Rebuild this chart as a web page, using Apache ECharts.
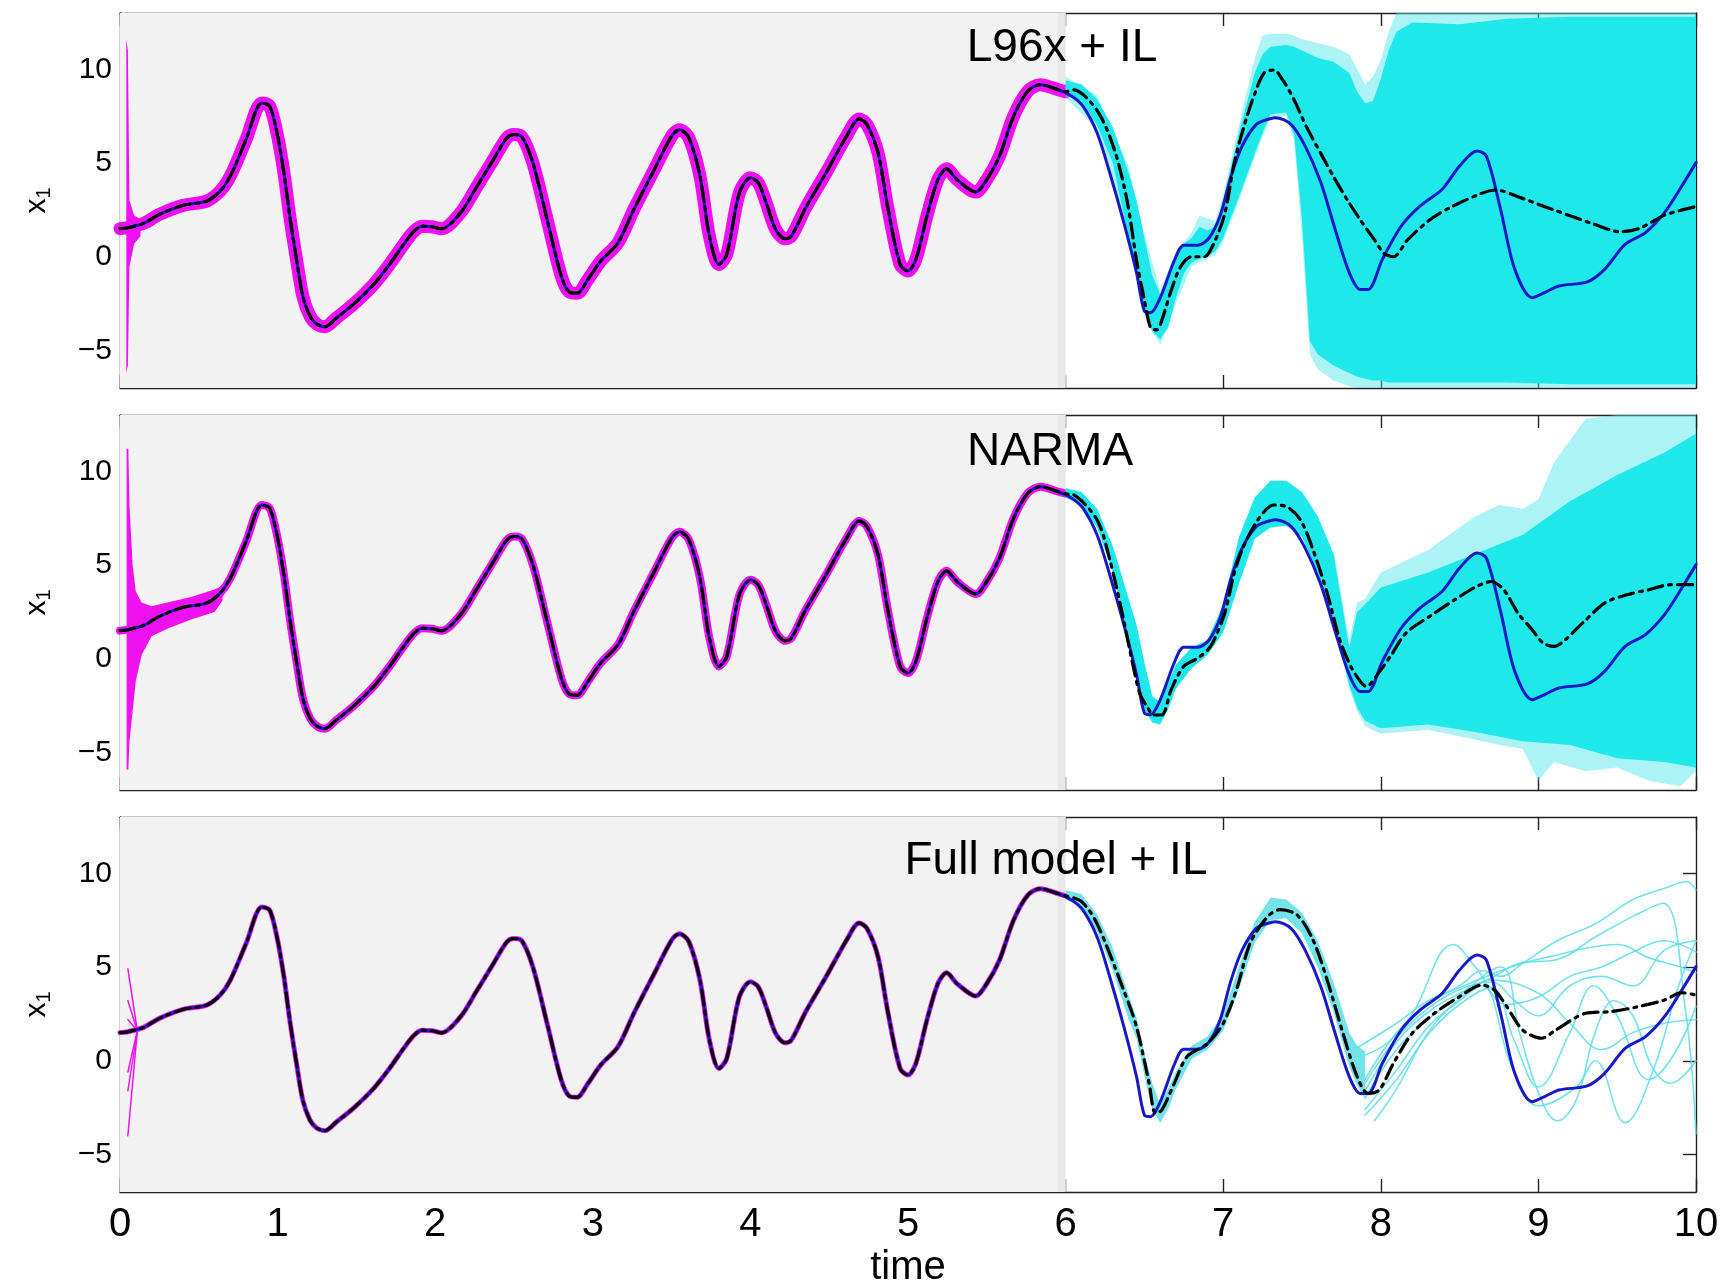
<!DOCTYPE html>
<html>
<head>
<meta charset="utf-8">
<script src="https://cdn.jsdelivr.net/npm/echarts@6/dist/echarts.min.js"></script>
<style>
  html, body { margin: 0; padding: 0; background: #fff; }
  #chart { width: 1727px; height: 1282px; }
</style>
</head>
<body>
<div id="chart"></div>
<script>
// ---- data ---------------------------------------------------------------
const panelTitles = ['L96x + IL', 'NARMA', 'Full model + IL'];
const xTicks = [0, 1, 2, 3, 4, 5, 6, 7, 8, 9, 10];
const yTicks = [-5, 0, 5, 10];
const analysisWindow = [0, 6];

// true trajectory of x1 (same in all three panels)
const truth = [
  [0.00,1.50],[0.05,1.55],[0.15,1.78],[0.25,2.26],[0.40,2.74],[0.55,2.97],[0.635,3.5],[0.70,4.3],
  [0.80,6.25],[0.90,8.2],[0.95,8.03],[1.00,6.43],[1.04,4.48],[1.08,2.0],[1.12,-0.14],[1.16,-2.1],
  [1.205,-3.16],[1.25,-3.6],[1.30,-3.73],[1.375,-3.25],[1.48,-2.54],[1.61,-1.47],[1.71,-0.41],
  [1.80,0.66],[1.86,1.31],[1.915,1.63],[1.98,1.6],[2.04,1.49],[2.16,2.34],[2.26,3.68],[2.37,5.19],
  [2.455,6.34],[2.50,6.52],[2.55,6.4],[2.62,5.0],[2.71,1.99],[2.80,-1.03],[2.85,-1.88],[2.90,-1.95],
  [2.97,-1.2],[3.05,-0.23],[3.16,0.75],[3.26,2.52],[3.39,4.65],[3.50,6.43],[3.55,6.78],[3.61,6.34],
  [3.68,4.3],[3.74,1.1],[3.80,-0.41],[3.85,0.12],[3.93,3.41],[4.00,4.21],[4.05,3.94],[4.10,2.88],
  [4.16,1.46],[4.22,0.96],[4.26,1.1],[4.35,2.6],[4.48,4.48],[4.61,6.43],[4.69,7.35],[4.74,7.05],
  [4.81,5.54],[4.87,2.7],[4.95,-0.41],[5.00,-0.76],[5.05,-0.14],[5.12,2.17],[5.19,4.12],[5.245,4.69],
  [5.31,4.12],[5.43,3.45],[5.50,4.12],[5.58,5.36],[5.67,7.5],[5.76,8.83],[5.84,9.18],[5.95,8.92],
  [6.04,8.56],[6.11,8.03],[6.20,6.6],[6.28,4.48],[6.37,1.81],[6.45,-0.85],[6.50,-2.9],[6.54,-2.98],
  [6.60,-2.2],[6.69,-0.2],[6.75,0.62],[6.84,0.62],[6.91,1.0],[6.98,2.17],[7.05,4.3],[7.12,5.9],
  [7.21,7.06],[7.28,7.32],[7.33,7.42],[7.43,7.06],[7.52,5.9],[7.62,3.95],[7.71,1.47],[7.80,-0.85],
  [7.87,-1.74],[7.92,-1.74],[8.01,-0.14],[8.13,1.64],[8.25,2.71],[8.39,3.6],[8.50,4.84],[8.61,5.64],
  [8.67,5.37],[8.76,2.53],[8.85,-0.67],[8.96,-2.18],[9.04,-1.91],[9.13,-1.56],[9.31,-1.34],
  [9.42,-0.67],[9.55,0.66],[9.68,1.29],[9.80,2.35],[9.91,3.77],[10.0,5.02]
];

// forecast ensemble means (t >= 6)
const meanL96 = [
  [6.00,8.8],[6.05,8.9],[6.20,7.8],[6.31,5.7],[6.39,3.0],[6.45,-0.18],[6.50,-2.3],[6.54,-3.8],
  [6.58,-3.9],[6.61,-3.4],[6.67,-1.8],[6.73,-0.53],[6.80,0.0],[6.88,0.0],[6.94,0.7],[7.01,2.3],
  [7.07,5.0],[7.13,6.9],[7.20,8.7],[7.26,9.8],[7.32,9.96],[7.38,9.4],[7.45,8.36],[7.53,6.9],
  [7.62,5.5],[7.70,4.27],[7.79,3.0],[7.87,1.96],[7.96,0.9],[8.02,0.18],[8.08,0.0],[8.17,0.9],
  [8.31,1.96],[8.45,2.67],[8.64,3.38],[8.73,3.56],[8.87,3.2],[9.10,2.49],[9.34,1.78],[9.52,1.33],
  [9.64,1.51],[9.80,2.22],[10.0,2.67]
];
const meanNarma = [
  [6.00,8.8],[6.05,8.75],[6.20,7.4],[6.28,5.3],[6.36,2.4],[6.42,-0.05],[6.47,-1.83],[6.52,-2.6],
  [6.56,-3.0],[6.61,-3.0],[6.67,-1.65],[6.75,-0.4],[6.84,0.04],[6.92,0.66],[7.01,2.44],[7.07,4.57],
  [7.13,6.0],[7.22,7.41],[7.32,8.2],[7.40,8.12],[7.49,7.41],[7.57,5.81],[7.66,3.5],[7.74,1.01],
  [7.81,-0.41],[7.87,-1.21],[7.91,-1.48],[7.97,-0.94],[8.06,0.12],[8.16,1.37],[8.31,2.26],
  [8.47,3.15],[8.59,3.77],[8.70,4.12],[8.78,3.68],[8.87,2.44],[8.96,1.55],[9.03,0.84],[9.10,0.66],
  [9.17,1.01],[9.28,1.9],[9.42,2.97],[9.56,3.41],[9.70,3.68],[9.84,3.95],[10.0,3.95]
];
const meanFull = [
  [6.00,8.8],[6.10,8.5],[6.20,7.3],[6.37,3.73],[6.45,1.81],[6.53,-1.2],[6.57,-2.8],[6.61,-2.63],
  [6.69,-1.2],[6.77,0.21],[6.90,0.92],[7.00,1.99],[7.09,3.94],[7.17,6.25],[7.28,7.67],[7.36,8.06],
  [7.47,7.77],[7.57,6.44],[7.66,4.3],[7.76,1.47],[7.85,-0.85],[7.92,-1.74],[7.99,-1.56],[8.08,-0.14],
  [8.20,1.47],[8.34,2.53],[8.50,3.42],[8.64,4.04],[8.72,3.77],[8.80,2.88],[8.90,1.64],[9.02,1.2],
  [9.11,1.64],[9.30,2.53],[9.46,2.62],[9.63,2.88],[9.80,3.24],[9.91,3.63],[10.0,3.5]
];

// forecast ensemble spread, L96x + IL (dense core and faint outer lines)
const l96CoreT  = [6.0,6.1,6.2,6.3,6.4,6.45,6.5,6.55,6.6,6.65,6.7,6.75,6.8,6.85,6.9,6.95,7.0,7.1,7.2,7.25,7.3,7.4,7.45,7.5,7.55,7.6,7.7,7.8,7.85,7.9,7.95,8.0,8.05,8.1,8.2,8.5,8.8,9.2,9.6,10.0];
const l96CoreLo = [8.7,8.3,7.0,5.0,1.0,-0.9,-2.9,-4.0,-4.4,-3.8,-2.2,-0.9,-0.3,-0.1,0.0,0.3,1.0,3.2,5.5,6.6,7.6,7.7,6.5,2.0,-4.5,-5.2,-5.8,-6.2,-6.4,-6.5,-6.6,-6.6,-6.7,-6.7,-6.7,-6.7,-6.7,-6.8,-6.8,-6.8];
const l96CoreHi = [9.4,9.2,8.4,6.9,4.5,3.0,1.0,-1.0,-2.0,-1.3,0.0,0.7,1.0,1.6,1.4,1.6,3.0,6.6,9.8,10.8,11.2,11.3,11.2,11.0,10.8,10.6,10.4,9.8,8.8,8.2,8.3,9.5,11.0,12.0,12.5,12.4,12.7,12.8,12.8,12.8];
const l96OuterT  = [6.0,6.2,6.4,6.5,6.6,6.7,6.8,6.85,6.95,7.0,7.1,7.2,7.25,7.3,7.4,7.45,7.5,7.55,7.6,7.7,7.8,7.85,7.9,7.95,8.0,8.05,8.1,10.0];
const l96OuterLo = [8.5,6.8,0.8,-3.1,-4.7,-2.5,-0.5,-0.3,0.1,0.8,3.0,5.3,6.4,7.4,7.5,6.2,1.0,-5.2,-6.0,-6.6,-6.9,-7,-7,-7,-7,-7,-7,-7];
const l96OuterHi = [9.6,8.6,4.8,1.2,-1.8,0.3,1.3,2.2,1.9,3.3,7.0,10.6,11.8,11.9,11.9,11.8,11.6,11.5,11.4,11.2,10.8,10.0,9.2,9.6,10.5,12.0,13,13];

// forecast ensemble spread, NARMA
const narmaCoreT  = [6.0,6.1,6.2,6.3,6.4,6.45,6.5,6.55,6.6,6.65,6.7,6.8,6.9,7.0,7.1,7.2,7.3,7.4,7.5,7.6,7.7,7.8,7.85,7.9,8.0,8.3,8.6,8.9,9.2,9.5,9.8,10.0];
const narmaCoreLo = [8.6,8.2,7.0,4.6,1.0,-0.9,-2.7,-3.4,-3.5,-2.7,-1.6,-0.5,0.2,1.4,4.0,6.4,7.0,7.1,6.5,4.6,2.0,-1.4,-2.6,-3.3,-3.7,-3.5,-3.9,-4.4,-4.6,-5.3,-5.5,-5.8];
const narmaCoreHi = [9.1,8.9,8.0,6.0,3.2,1.8,-0.2,-2.0,-2.3,-1.3,-0.3,0.6,1.0,2.9,6.5,8.6,9.5,9.5,8.9,7.6,5.6,0.6,2.5,2.9,3.8,4.6,5.6,6.6,8.4,9.8,11.0,12.0];
const narmaOuterT  = [7.7,7.8,7.85,7.9,8.0,8.3,8.6,8.75,8.9,9.0,9.1,9.3,9.5,9.7,9.9,10.0];
const narmaOuterLo = [2.0,-1.6,-2.8,-3.6,-4.0,-3.8,-4.3,-4.6,-4.8,-6.5,-5.5,-6.0,-5.8,-6.5,-6.8,-6.0];
const narmaOuterHi = [5.8,1.0,3.0,3.2,4.6,5.8,7.6,8.2,8.0,8.5,10.5,12.8,13,13,13,13];

// forecast ensemble, full model + IL: tight early spread, then single members
const fullCoreT  = [6.0,6.1,6.2,6.3,6.4,6.45,6.5,6.55,6.6,6.65,6.7,6.8,6.9,7.0,7.1,7.2,7.3,7.4,7.5,7.6,7.7,7.8,7.85,7.9];
const fullCoreLo = [8.6,8.2,6.9,4.8,2.2,1.2,-0.8,-2.6,-3.3,-2.6,-1.5,0.1,0.6,1.6,3.8,6.3,7.5,7.6,6.8,5.0,2.6,-0.3,-1.3,-2.0];
const fullCoreHi = [9.1,8.9,7.8,6.0,3.5,2.3,0.4,-1.2,-2.3,-1.5,-0.6,0.8,1.3,2.5,5.0,7.4,8.7,8.6,7.9,6.4,4.2,1.5,0.8,0.5];
const fullMembers = [
  [[7.9,-1.0],[8.1,1.5],[8.3,3.0],[8.5,4.0],[8.65,4.8],[8.76,4.5],[8.9,5.2],[9.12,6.4],[9.36,7.3],[9.6,8.6],[9.8,9.2],[9.94,9.55],[10,9.1]],
  [[7.9,-1.6],[8.1,1.0],[8.3,2.6],[8.5,3.6],[8.7,4.4],[8.88,5.2],[9.12,5.4],[9.36,6.6],[9.6,7.7],[9.79,8.4],[9.93,2.9],[10,-3.9]],
  [[7.9,-2.0],[8.1,0.6],[8.3,2.2],[8.5,3.5],[8.76,5.0],[8.88,1.5],[9.0,-1.7],[9.12,-3.2],[9.24,-2.1],[9.36,1.5],[9.48,3.2],[9.6,2.4],[9.72,-0.3],[9.84,-1.2],[10,0.0]],
  [[7.9,-2.6],[8.1,-0.5],[8.3,1.8],[8.5,3.2],[8.64,4.0],[8.83,-0.3],[9.0,-2.4],[9.24,-1.4],[9.36,0.0],[9.55,-3.3],[9.72,-0.7],[9.89,4.0],[10,6.4]],
  [[7.9,-1.2],[8.1,1.2],[8.3,2.8],[8.5,3.8],[8.7,4.2],[8.85,3.2],[9.0,2.4],[9.2,4.0],[9.4,4.5],[9.6,4.0],[9.8,5.9],[10,6.4]],
  [[7.9,-2.9],[8.1,-1.0],[8.3,1.4],[8.5,3.0],[8.7,3.9],[8.85,1.0],[9.0,-1.4],[9.2,1.5],[9.35,4.0],[9.5,2.4],[9.7,-1.0],[9.85,0.2],[10,2.9]],
  [[7.9,0.3],[8.05,1.0],[8.2,2.5],[8.46,6.2],[8.6,5.0],[8.8,3.0],[9.0,3.4],[9.2,4.5],[9.4,5.0],[9.6,5.8],[9.8,6.4],[10,5.8]],
  [[7.96,-3.2],[8.1,-1.5],[8.3,1.5],[8.5,3.3],[8.7,4.3],[9.0,3.6],[9.2,2.0],[9.4,0.6],[9.6,1.5],[9.8,2.0],[10,2.2]],
  [[7.85,0.7],[8.1,2.0],[8.3,3.2],[8.5,3.9],[8.7,4.6],[8.9,5.2],[9.1,5.6],[9.3,6.0],[9.5,6.2],[9.7,5.5],[9.9,5.0],[10,4.7]]
];

// initial-condition spread of the analysis ensembles near t = 0
const l96SpikeT  = [0.04,0.05,0.06,0.09,0.13];
const l96SpikeLo = [-6.2,-5.8,-0.5,0.7,1.1];
const l96SpikeHi = [11.6,11.0,3.0,2.2,2.0];
const narmaSpikeT  = [0.042,0.053,0.06,0.08,0.1,0.137,0.2,0.3,0.45,0.6,0.65];
const narmaSpikeLo = [-5.9,-5.9,-4.4,-2.8,-1.2,0.2,1.2,1.6,2.1,2.5,3.1];
const narmaSpikeHi = [11.2,11.2,8.2,5.0,3.6,3.0,2.8,3.0,3.3,3.7,3.9];
const fullSpikeStart = [4.9, 3.2, 2.2, -0.6, -1.6, -4.0];
const fullSpikeJoin = [0.11, 1.6];

// ---- drawing ------------------------------------------------------------
const C = {
  shade: '#f2f2f2', shadeEdge: '#e8e8e8', magenta: '#ee10ee',
  cyan: '#1ee8ea', cyanFaint: 'rgba(70,228,234,0.45)', cyanLine: 'rgba(90,222,230,0.85)',
  blue: '#1818c8', black: '#000', axis: '#222'
};
const grids = [
  { left: 120, top: 13,  width: 1576, height: 375, outerBoundsMode: 'none', containLabel: false },
  { left: 120, top: 415, width: 1576, height: 375, outerBoundsMode: 'none', containLabel: false },
  { left: 120, top: 817, width: 1576, height: 375, outerBoundsMode: 'none', containLabel: false }
];

function band(p, t, lo, hi, fill, z) {
  return {
    type: 'custom', coordinateSystem: 'cartesian2d', xAxisIndex: 2 * p, yAxisIndex: 2 * p,
    z: z, silent: true, clip: true, data: [[t[0], lo[0]]], encode: { x: 0, y: 1 },
    renderItem: function (params, api) {
      const pts = [];
      for (let i = 0; i < t.length; i++) pts.push(api.coord([t[i], hi[i]]));
      for (let i = t.length - 1; i >= 0; i--) pts.push(api.coord([t[i], lo[i]]));
      return { type: 'polygon', shape: { points: pts }, style: { fill: fill } };
    }
  };
}
function line(p, data, color, width, z, type, smooth) {
  return {
    type: 'line', xAxisIndex: 2 * p, yAxisIndex: 2 * p, data: data, z: z,
    symbol: 'none', showSymbol: false, silent: true, clip: true, smooth: smooth || 0,
    lineStyle: { color: color, width: width, type: type || 'solid', cap: 'round', join: 'round' }
  };
}

const analysisPart = truth.filter(d => d[0] < 6);
const means = [meanL96, meanNarma, meanFull];
const magentaWidth = [13, 8, 5];
const dashDot = [15, 6, 3, 6];
const curveSmooth = 0.3;

const series = [];
const xAxes = [], yAxes = [];
const tickStyle = { color: C.axis, width: 1.4 };
const narrowFont = '"Liberation Sans Narrow", "Liberation Sans", Arial';

for (let p = 0; p < 3; p++) {
  const bottom = p === 2;
  xAxes.push({
    gridIndex: p, type: 'value', min: 0, max: 10, interval: 1, position: 'bottom',
    axisLine: { show: true, onZero: false, lineStyle: tickStyle },
    axisTick: { show: true, inside: true, length: 13, lineStyle: tickStyle },
    splitLine: { show: false },
    axisLabel: { show: bottom, margin: 13, color: '#000', fontSize: 40, fontFamily: narrowFont },
    name: bottom ? 'time' : '', nameLocation: 'middle', nameGap: 56,
    nameTextStyle: { color: '#000', fontSize: 40, fontFamily: narrowFont }
  });
  xAxes.push({
    gridIndex: p, type: 'value', min: 0, max: 10, interval: 1, position: 'top',
    axisLine: { show: true, onZero: false, lineStyle: tickStyle },
    axisTick: { show: true, inside: true, length: 13, lineStyle: tickStyle },
    splitLine: { show: false }, axisLabel: { show: false }
  });
  yAxes.push({
    gridIndex: p, type: 'value', min: -7, max: 13, position: 'left',
    axisLine: { show: true, onZero: false, lineStyle: tickStyle },
    axisTick: { show: true, inside: true, length: 13, lineStyle: tickStyle, customValues: yTicks },
    splitLine: { show: false },
    axisLabel: {
      margin: 8, color: '#000', fontSize: 30, fontFamily: '"Liberation Sans", Arial',
      customValues: yTicks, formatter: v => String(v).replace('-', '\u2212')
    },
    name: '{a|x}{b|1}', nameLocation: 'middle', nameRotate: 90, nameGap: 66,
    nameTextStyle: {
      rich: {
        a: { fontSize: 30, lineHeight: 34, color: '#000', fontFamily: '"Liberation Sans", Arial' },
        b: { fontSize: 20, lineHeight: 20, color: '#000', verticalAlign: 'bottom', fontFamily: '"Liberation Sans", Arial' }
      }
    }
  });
  yAxes.push({
    gridIndex: p, type: 'value', min: -7, max: 13, position: 'right',
    axisLine: { show: true, onZero: false, lineStyle: tickStyle },
    axisTick: { show: true, inside: true, length: 13, lineStyle: tickStyle, customValues: yTicks },
    splitLine: { show: false }, axisLabel: { show: false }
  });

  // assimilation window
  series.push(band(p, analysisWindow, [-7, -7], [13, 13], C.shade, 1));
  series.push(band(p, [5.95, analysisWindow[1]], [-7, -7], [13, 13], C.shadeEdge, 1));

  // analysis ensemble (magenta)
  series.push(line(p, analysisPart.concat([means[p][0]]), C.magenta, magentaWidth[p], 2, 'solid', curveSmooth));
}

// initial spread of the analysis ensembles
series.push(band(0, l96SpikeT, l96SpikeLo, l96SpikeHi, C.magenta, 2));
series.push(band(1, narmaSpikeT, narmaSpikeLo, narmaSpikeHi, C.magenta, 2));
fullSpikeStart.forEach(v => series.push(line(2, [[0.05, v], fullSpikeJoin], C.magenta, 1.5, 2)));

// forecast ensembles (cyan)
series.push(band(0, l96OuterT, l96OuterLo, l96OuterHi, C.cyanFaint, 3));
series.push(band(0, l96CoreT, l96CoreLo, l96CoreHi, C.cyan, 4));
series.push(band(1, narmaOuterT, narmaOuterLo, narmaOuterHi, C.cyanFaint, 3));
series.push(band(1, narmaCoreT, narmaCoreLo, narmaCoreHi, C.cyan, 4));
series.push(band(2, fullCoreT, fullCoreLo, fullCoreHi, C.cyanLine, 4));
fullMembers.forEach(m => series.push(line(2, m, C.cyanLine, 1.6, 4, 'solid', 0.4)));

// truth (blue) and ensemble mean (black dash-dot)
for (let p = 0; p < 3; p++) {
  series.push(line(p, truth, C.blue, 3, 5, 'solid', curveSmooth));
  series.push(line(p, analysisPart.concat(means[p]), C.black, 3.2, 6, dashDot, curveSmooth));
}

const titleCentres = [[1062, 48], [1050, 452], [1056, 861]];
const graphic = panelTitles.map((txt, i) => ({
  type: 'text', x: titleCentres[i][0], y: titleCentres[i][1], z: 100, silent: true,
  style: {
    text: txt, fill: '#000', font: '46px "Liberation Sans", Arial',
    align: 'center', verticalAlign: 'middle', textAlign: 'center', textVerticalAlign: 'middle'
  }
}));

const chart = echarts.init(document.getElementById('chart'), null, { renderer: 'canvas' });
chart.setOption({
  animation: false,
  backgroundColor: '#fff',
  grid: grids,
  xAxis: xAxes,
  yAxis: yAxes,
  series: series,
  graphic: graphic
});
</script>
</body>
</html>
